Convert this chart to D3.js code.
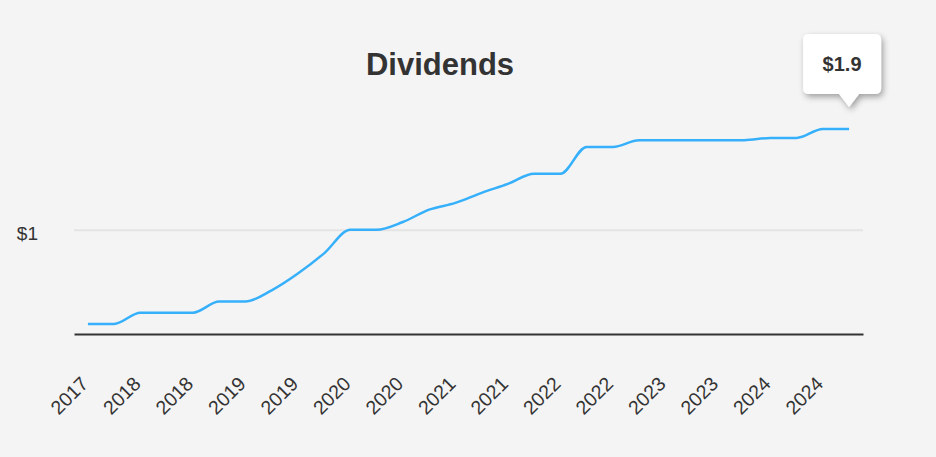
<!DOCTYPE html>
<html>
<head>
<meta charset="utf-8">
<script src="https://cdn.jsdelivr.net/npm/d3@7"></script>
<style>
  html, body { margin: 0; padding: 0; background: #f4f4f4; }
  svg { display: block; font-family: Arial, "Liberation Sans", sans-serif; }
</style>
</head>
<body>
<div id="chart"></div>
<script>
// Dividend per share, one value per period
const dividends = [0.16, 0.16, 0.26, 0.26, 0.26, 0.36, 0.36, 0.46, 0.61, 0.79,
                   1.00, 1.00, 1.07, 1.18, 1.24, 1.33, 1.41, 1.50, 1.50, 1.74,
                   1.74, 1.80, 1.80, 1.80, 1.80, 1.80, 1.82, 1.82, 1.90, 1.90];
// Year labels shown under every second period
const tickLabels = ["2017", "2018", "2018", "2019", "2019", "2020", "2020", "2021",
                    "2021", "2022", "2022", "2023", "2023", "2024", "2024"];
const yTicks = [1];
const lastLabel = "$1.9";

const width = 936, height = 457;
const margin = { top: 129, right: 73, bottom: 123, left: 74 };

const svg = d3.select("#chart").append("svg")
    .attr("width", width)
    .attr("height", height);

// Drop shadow for the tooltip bubble
svg.append("defs").append("filter")
    .attr("id", "shadow")
    .attr("x", "-30%").attr("y", "-30%")
    .attr("width", "160%").attr("height", "160%")
    .append("feDropShadow")
    .attr("dx", 2).attr("dy", 3)
    .attr("stdDeviation", 3)
    .attr("flood-color", "#000")
    .attr("flood-opacity", 0.35);

const idx = d3.range(dividends.length);

const x = d3.scalePoint()
    .domain(idx)
    .range([margin.left, width - margin.right])
    .padding(0.53);

const y = d3.scaleLinear()
    .domain([0.07, 1.9])
    .range([height - margin.bottom, margin.top]);

// Title
svg.append("text")
    .attr("x", 440)
    .attr("y", 75)
    .attr("text-anchor", "middle")
    .attr("font-size", 31)
    .attr("font-weight", "bold")
    .attr("fill", "#333")
    .text("Dividends");

// Y axis: grid line + label only
const yAxis = svg.append("g")
    .attr("transform", `translate(${margin.left},0)`)
    .call(d3.axisLeft(y)
        .tickValues(yTicks)
        .tickSize(-(width - margin.left - margin.right))
        .tickPadding(36)
        .tickFormat(d => "$" + d));
yAxis.select(".domain").remove();
yAxis.selectAll(".tick line").attr("stroke", "#e4e4e4").attr("stroke-width", 2);
yAxis.selectAll(".tick text")
    .attr("font-size", 19)
    .attr("fill", "#333")
    .attr("dy", "0.5em")
    .attr("font-family", "Arial, 'Liberation Sans', sans-serif");

// X axis
const xAxis = svg.append("g")
    .attr("transform", `translate(0,${height - margin.bottom})`)
    .call(d3.axisBottom(x)
        .tickValues(idx.filter(i => i % 2 === 0))
        .tickSize(0)
        .tickFormat(i => tickLabels[i / 2]));
xAxis.select(".domain").attr("stroke", "#333").attr("stroke-width", 2);
xAxis.selectAll(".tick text")
    .attr("font-size", 19.5)
    .attr("fill", "#333")
    .attr("font-family", "Arial, 'Liberation Sans', sans-serif")
    .attr("text-anchor", "end")
    .attr("dy", 0)
    .attr("y", 0)
    .attr("transform", "translate(1,51) rotate(-45)");

// Line
const line = d3.line()
    .x((d, i) => x(i))
    .y(d => y(d))
    .curve(d3.curveMonotoneX);

svg.append("path")
    .datum(dividends)
    .attr("fill", "none")
    .attr("stroke", "#36b0fb")
    .attr("stroke-width", 2.5)
    .attr("d", line);

// Tooltip on the last value
const li = dividends.length - 1;
const tipX = x(li), tipY = y(dividends[li]) - 22;
const bx0 = tipX - 46, bx1 = tipX + 32, by0 = tipY - 73, by1 = tipY - 13, r = 5;
const tip = d3.path();
tip.moveTo(bx0 + r, by0);
tip.lineTo(bx1 - r, by0);
tip.arcTo(bx1, by0, bx1, by0 + r, r);
tip.lineTo(bx1, by1 - r);
tip.arcTo(bx1, by1, bx1 - r, by1, r);
tip.lineTo(tipX + 10, by1);
tip.lineTo(tipX, tipY);
tip.lineTo(tipX - 10, by1);
tip.lineTo(bx0 + r, by1);
tip.arcTo(bx0, by1, bx0, by1 - r, r);
tip.lineTo(bx0, by0 + r);
tip.arcTo(bx0, by0, bx0 + r, by0, r);
tip.closePath();

svg.append("path")
    .attr("d", tip.toString())
    .attr("fill", "#fff")
    .attr("filter", "url(#shadow)");

svg.append("text")
    .attr("x", (bx0 + bx1) / 2)
    .attr("y", (by0 + by1) / 2 + 7)
    .attr("text-anchor", "middle")
    .attr("font-size", 20)
    .attr("font-weight", "bold")
    .attr("fill", "#333")
    .text(lastLabel);
</script>
</body>
</html>
